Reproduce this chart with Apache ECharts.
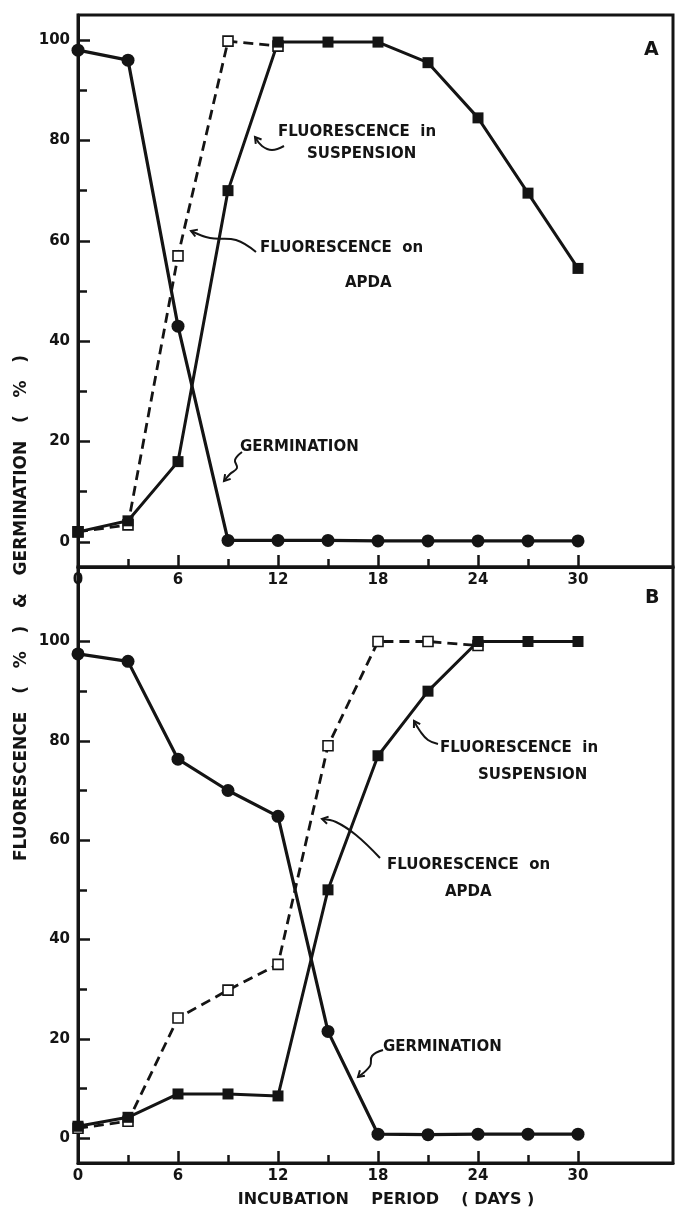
<!DOCTYPE html>
<html>
<head>
<meta charset="utf-8">
<script src="https://cdn.jsdelivr.net/npm/echarts@6/dist/echarts.min.js"></script>
<style>
  html, body { margin: 0; padding: 0; background: #fff; }
  #chart { width: 677px; height: 1214px; }
</style>
</head>
<body>
<div id="chart"></div>
<script>
const days = [0, 3, 6, 9, 12, 15, 18, 21, 24, 27, 30];
const majorDays = [0, 6, 12, 18, 24, 30];
const minorDays = [3, 9, 15, 21, 27];
const majorPct = [0, 20, 40, 60, 80, 100];
const minorPct = [10, 30, 50, 70, 90];

// panel A
const germA = [98, 96, 43, 0.3, 0.3, 0.3, 0.2, 0.2, 0.2, 0.2, 0.2];
const suspA = [2, 4.2, 16, 70, 99.6, 99.6, 99.6, 95.5, 84.5, 69.5, 54.5];
const apdaA = [2, 3.4, 57, 99.8, 98.8];

// panel B
const germB = [97.5, 96, 76.3, 70, 64.8, 21.5, 0.8, 0.7, 0.8, 0.8, 0.8];
const suspB = [2.4, 4.2, 8.9, 8.9, 8.5, 50, 77, 90, 100, 100, 100];
const apdaB = [2, 3.4, 24.2, 29.8, 35, 79, 100, 100, 99.2];

const ink = '#141414';
const font = 'DejaVu Sans';

const chart = echarts.init(document.getElementById('chart'));

const pairs = (vals) => vals.map((v, i) => [days[i], v]);

function xAxes(gi) {
  return [
    {
      type: 'value', gridIndex: gi, min: 0, max: 35.7,
      axisLine: { onZero: false, lineStyle: { color: ink, width: 3 } },
      axisTick: { inside: true, length: 12, customValues: majorDays, lineStyle: { color: ink, width: 2.5 } },
      axisLabel: { customValues: majorDays, margin: 6, color: ink, fontFamily: font, fontWeight: 'bold', fontSize: 15 },
      splitLine: { show: false },
    },
    {
      type: 'value', gridIndex: gi, min: 0, max: 35.7, position: 'bottom',
      axisLine: { show: false, onZero: false },
      axisTick: { inside: true, length: 8, customValues: minorDays, lineStyle: { color: ink, width: 2.5 } },
      axisLabel: { show: false },
      splitLine: { show: false },
    },
  ];
}

function yAxes(gi, max) {
  return [
    {
      type: 'value', gridIndex: gi, min: -5, max: max,
      axisLine: { show: true, onZero: false, lineStyle: { color: ink, width: 3 } },
      axisTick: { show: true, inside: true, length: 12, customValues: majorPct, lineStyle: { color: ink, width: 2.5 } },
      axisLabel: { customValues: majorPct, margin: 8, color: ink, fontFamily: font, fontWeight: 'bold', fontSize: 15 },
      splitLine: { show: false },
    },
    {
      type: 'value', gridIndex: gi, min: -5, max: max, position: 'left',
      axisLine: { show: false, onZero: false },
      axisTick: { show: true, inside: true, length: 9, customValues: minorPct, lineStyle: { color: ink, width: 2.5 } },
      axisLabel: { show: false },
      splitLine: { show: false },
    },
  ];
}

function apdaSeries(vals, xi, yi) {
  return {
    type: 'line', xAxisIndex: xi, yAxisIndex: yi, data: pairs(vals),
    symbol: 'rect', symbolSize: 10,
    itemStyle: { color: '#fff', borderColor: ink, borderWidth: 1.6 },
    lineStyle: { color: ink, width: 2.8, type: [10, 6] },
    silent: true, animation: false,
  };
}
function suspSeries(vals, xi, yi) {
  return {
    type: 'line', xAxisIndex: xi, yAxisIndex: yi, data: pairs(vals),
    symbol: 'rect', symbolSize: 11,
    itemStyle: { color: ink, borderWidth: 0 },
    lineStyle: { color: ink, width: 3 },
    silent: true, animation: false,
  };
}
function germSeries(vals, xi, yi) {
  return {
    type: 'line', xAxisIndex: xi, yAxisIndex: yi, data: pairs(vals),
    symbol: 'circle', symbolSize: 13,
    itemStyle: { color: ink, borderWidth: 0 },
    lineStyle: { color: ink, width: 3.2 },
    silent: true, animation: false,
  };
}

const labelFont = 'bold 15px "DejaVu Sans"';
function txt(text, x, y, f) {
  return { type: 'text', x: x, y: y, silent: true,
    style: { text: text, font: f || labelFont, fill: ink, align: 'left', verticalAlign: 'middle' } };
}
// curly pointer: smooth line through points, arrow head at the last point
function arrow(pts) {
  const n = pts.length;
  const [x1, y1] = pts[n - 2];
  const [x2, y2] = pts[n - 1];
  const a = Math.atan2(y2 - y1, x2 - x1);
  const L = 7;
  const b1 = [x2 - L * Math.cos(a - 0.55), y2 - L * Math.sin(a - 0.55)];
  const b2 = [x2 - L * Math.cos(a + 0.55), y2 - L * Math.sin(a + 0.55)];
  return [
    { type: 'polyline', silent: true, shape: { points: pts, smooth: 0.4 },
      style: { stroke: ink, lineWidth: 2, fill: null } },
    { type: 'polyline', silent: true, shape: { points: [b1, [x2, y2], b2] },
      style: { stroke: ink, lineWidth: 2, fill: null } },
  ];
}

chart.setOption({
  backgroundColor: '#fff',
  animation: false,
  grid: [
    { left: 78, right: 4, top: 15, height: 552, show: true, borderColor: ink, borderWidth: 3 },
    { left: 78, right: 4, top: 567, height: 596, show: true, borderColor: ink, borderWidth: 3 },
  ],
  xAxis: [...xAxes(0), ...xAxes(1)],
  yAxis: [...yAxes(0, 105), ...yAxes(1, 115)],
  series: [
    apdaSeries(apdaA, 0, 0),
    suspSeries(suspA, 0, 0),
    germSeries(germA, 0, 0),
    apdaSeries(apdaB, 2, 2),
    suspSeries(suspB, 2, 2),
    germSeries(germB, 2, 2),
  ],
  graphic: [
    txt('A', 644, 50, 'bold 19px "DejaVu Sans"'),
    txt('B', 645, 598, 'bold 19px "DejaVu Sans"'),

    txt('FLUORESCENCE  in', 278, 132),
    txt('SUSPENSION', 307, 154),
    ...arrow([[284, 146], [272, 150], [262, 146], [255, 137]]),
    txt('FLUORESCENCE  on', 260, 248),
    txt('APDA', 345, 283),
    ...arrow([[256, 252], [236, 240], [210, 238], [191, 231]]),
    txt('GERMINATION', 240, 447),
    ...arrow([[242, 452], [235, 460], [237, 468], [230, 474], [224, 481]]),

    txt('FLUORESCENCE  in', 440, 748),
    txt('SUSPENSION', 478, 775),
    ...arrow([[438, 744], [428, 740], [420, 731], [414, 721]]),
    txt('FLUORESCENCE  on', 387, 865),
    txt('APDA', 445, 892),
    ...arrow([[380, 858], [356, 835], [336, 822], [322, 819]]),
    txt('GERMINATION', 383, 1047),
    ...arrow([[383, 1050], [372, 1056], [370, 1066], [358, 1077]]),

    { type: 'text', x: 22, y: 608, rotation: Math.PI / 2, silent: true,
      style: { text: 'FLUORESCENCE   (   %   )   &   GERMINATION   (   %   )', font: 'bold 17px "DejaVu Sans"',
        fill: ink, align: 'center', verticalAlign: 'middle' } },
    { type: 'text', x: 386, y: 1200, silent: true,
      style: { text: 'INCUBATION    PERIOD    ( DAYS )', font: 'bold 16px "DejaVu Sans"',
        fill: ink, align: 'center', verticalAlign: 'middle' } },
  ],
});
</script>
</body>
</html>
